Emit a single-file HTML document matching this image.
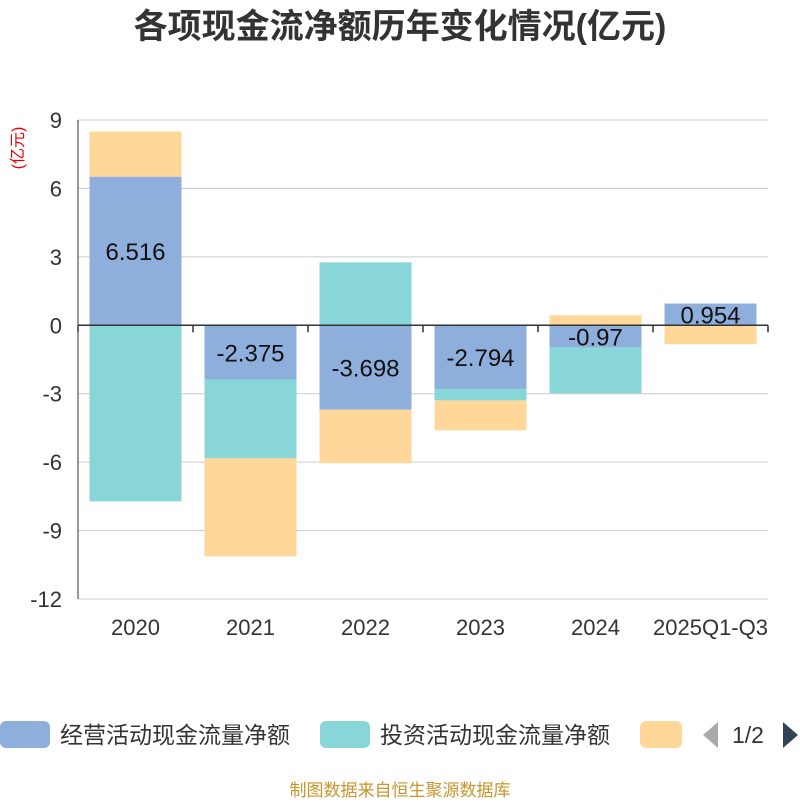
<!DOCTYPE html>
<html><head><meta charset="utf-8"><style>
body{margin:0;background:#fff;font-family:"Liberation Sans","Noto Sans CJK SC",sans-serif}
</style></head><body>
<svg id="c" width="800" height="800" xmlns="http://www.w3.org/2000/svg">
<text x="400" y="38" text-anchor="middle" font-size="34" font-weight="bold" fill="#333" font-family="Liberation Sans,Noto Sans CJK SC,sans-serif">各项现金流净额历年变化情况(亿元)</text>
<text transform="translate(23,148) rotate(-90)" text-anchor="middle" font-size="16" fill="#e00" font-family="Liberation Sans,Noto Sans CJK SC,sans-serif">(亿元)</text>
<g id="grid"></g><g id="bars"></g><g id="axis"></g><g id="labels"></g>
<g font-family="Liberation Sans,Noto Sans CJK SC,sans-serif" font-size="23" fill="#333">
<g><rect x="0" y="721" width="50" height="27" rx="6" fill="#8eaedb"/><text x="60" y="743">经营活动现金流量净额</text></g>
<g><rect x="320" y="721" width="50" height="27" rx="6" fill="#88d6d8"/><text x="380" y="743">投资活动现金流量净额</text></g>
<g><rect x="640" y="721" width="42" height="27" rx="6" fill="#ffd899"/></g>
<polygon points="718,722 718,748 703,735" fill="#aaa"/>
<text x="732" y="743">1/2</text>
<polygon points="783,722 783,748 798,735" fill="#2f4554"/>
</g>
<text x="400" y="796" text-anchor="middle" font-size="17" fill="#c8952a" font-family="Liberation Sans,Noto Sans CJK SC,sans-serif">制图数据来自恒生聚源数据库</text>
</svg>
<script>
const categories=["2020","2021","2022","2023","2024","2025Q1-Q3"];
const operating=[6.516,-2.375,-3.698,-2.794,-0.97,0.954];
const investing=[-7.72,-3.46,2.76,-0.5,-2.01,0];
const financing=[1.98,-4.3,-2.35,-1.31,0.44,-0.83];
const ticks=[9,6,3,0,-3,-6,-9,-12];
const NS="http://www.w3.org/2000/svg";
const x0=78,x1=768,yTop=120,yBot=599,vMax=9,vMin=-12;
const y=v=>yTop+(vMax-v)/(vMax-vMin)*(yBot-yTop);
const band=(x1-x0)/categories.length;
const xc=i=>x0+band*(i+0.5);
function mk(t,a,p){const e=document.createElementNS(NS,t);for(const k in a)e.setAttribute(k,a[k]);document.getElementById(p).appendChild(e);return e;}
ticks.forEach(t=>{
 const l=mk('line',{x1:x0,x2:x1,y1:y(t),y2:y(t),stroke:t===0?'#333':'#ccc','stroke-width':t===0?1.5:1},t===0?'axis':'grid');
 
 
 const tx=mk('text',{x:x0-16,y:y(t)+8,'text-anchor':'end','font-size':22,fill:'#333'},'axis');tx.textContent=t;
 
 
});
const yl=mk('line',{x1:x0,x2:x0,y1:yTop,y2:yBot,stroke:'#333'},'axis');


for(let i=0;i<=categories.length;i++){const tk=mk('line',{x1:x0+band*i,x2:x0+band*i,y1:y(0),y2:y(0)+7,stroke:'#333','stroke-width':1.5},'axis');
 
 }
categories.forEach((c,i)=>{const t=mk('text',{x:xc(i),y:635,'text-anchor':'middle','font-size':22,fill:'#333'},'axis');t.textContent=c;
 
 });
const series=[[operating,'#8eaedb','operating'],[investing,'#88d6d8','investing'],[financing,'#ffd899','financing']];
const pos=categories.map(()=>0),neg=categories.map(()=>0);
const bw=band*0.8;
series.forEach(([d,col,nm])=>{d.forEach((v,i)=>{
 let a,b;if(v>=0){a=pos[i];b=a+v;pos[i]=b;}else{a=neg[i];b=a+v;neg[i]=b;}
 const r=mk('rect',{x:xc(i)-bw/2,width:bw,y:Math.min(y(a),y(b)),height:Math.abs(y(a)-y(b)),fill:col},'bars');
 
 
});});
operating.forEach((v,i)=>{const t=mk('text',{x:xc(i),y:(y(0)+y(v))/2+9,'text-anchor':'middle','font-size':24,fill:'#111'},'labels');t.textContent=v;
 
 });
</script>
</body></html>
